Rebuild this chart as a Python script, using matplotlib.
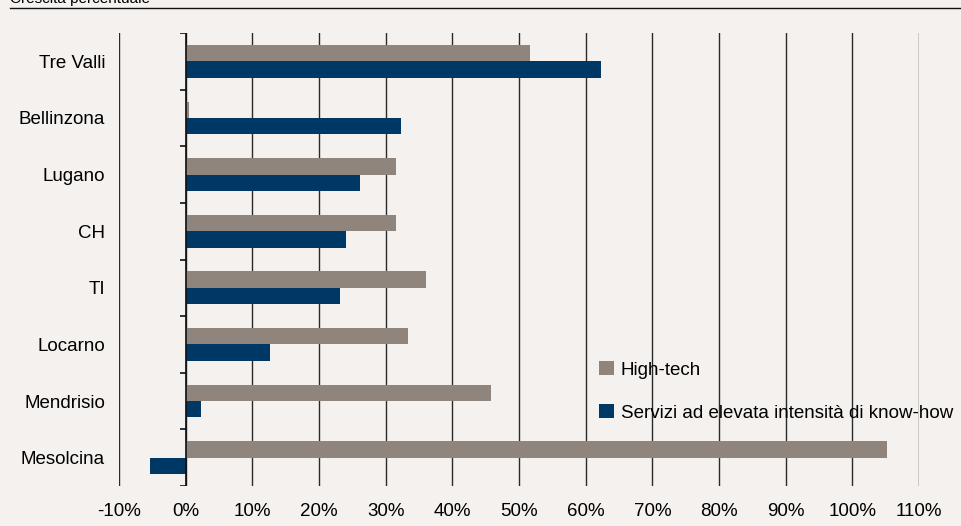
import numpy as np
import matplotlib
matplotlib.use("Agg")
import matplotlib.pyplot as plt
from matplotlib.lines import Line2D

plt.rcParams['font.family'] = ['Liberation Sans', 'DejaVu Sans']

# data (growth in %)
regions = ["Tre Valli", "Bellinzona", "Lugano", "CH", "TI", "Locarno", "Mendrisio", "Mesolcina"]
high_tech = [51.6, 0.5, 31.6, 31.5, 36.0, 33.3, 45.8, 105.2]
servizi = [62.3, 32.3, 26.2, 24.1, 23.1, 12.7, 2.3, -5.3]
xticks = list(range(-10, 111, 10))
series_names = ["High-tech", "Servizi ad elevata intensità di know-how"]

bg = '#f4f1ee'
c_gray = '#8f857c'
c_blue = '#003865'

fig = plt.figure(figsize=(9.62, 5.26), dpi=100, facecolor=bg)
ax = fig.add_axes([119/962, 1-486/526, 800/962, 453/526], facecolor=bg)

y = np.arange(len(regions))
h = 0.29
ax.barh(y - h/2, high_tech, height=h, color=c_gray, label=series_names[0], zorder=3)
ax.barh(y + h/2, servizi, height=h, color=c_blue, label=series_names[1], zorder=3)

ax.set_xlim(-10, 110)
ax.set_ylim(len(regions) - 0.5, -0.5)

ax.set_xticks(xticks)
ax.set_xticklabels([f"{v}%" for v in xticks], fontsize=13.5)
ax.set_yticks(y)
ax.set_yticklabels(regions, fontsize=13.5)
ax.tick_params(axis='x', length=0, pad=12)
ax.tick_params(axis='y', length=0, pad=10)
ax.grid(axis='x', color='#2a2a2a', lw=1, zorder=1)
for s in ax.spines.values():
    s.set_visible(False)

# zero axis with category ticks
ax.axvline(0, color='#111111', lw=1.2, zorder=4)
ax.hlines(np.arange(-0.5, len(regions)), -0.9, 0, color='#111111', lw=1.2, zorder=4)

leg = ax.legend(loc='center left', bbox_to_anchor=(0.6, 0.209), frameon=False,
                fontsize=13.5, handlelength=0.8, handleheight=0.8,
                handletextpad=0.35, labelspacing=1.35, borderpad=0, borderaxespad=0)

# header
fig.add_artist(Line2D([10/962, 1], [1-8/526, 1-8/526], transform=fig.transFigure,
                      color='#111111', lw=1))
fig.text(10/962, 1-3/526, "Crescita percentuale", fontsize=11, va='baseline', ha='left')

fig.savefig("out.png", dpi=100, facecolor=bg)
